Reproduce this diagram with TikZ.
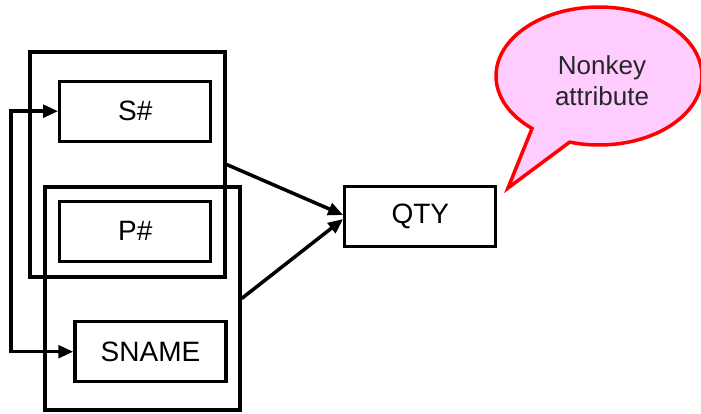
\documentclass[tikz,border=0pt]{standalone}
\usepackage{fontspec}
\setmainfont{Liberation Sans}
\usetikzlibrary{arrows.meta,shapes.callouts}
\definecolor{bubblepink}{RGB}{255,204,255}
\begin{document}
\begin{tikzpicture}[x=1pt, y=-1pt,
  attr/.style={draw, line width=3.3pt, minimum width=151pt, minimum height=60pt,
    inner sep=0pt, font=\fontsize{28}{30}\selectfont},
  group/.style={draw, line width=3.3pt, minimum width=195pt, inner sep=0pt},
  link/.style={line width=3.5pt, >={Triangle[length=15pt,width=12.5pt]}}]
\useasboundingbox (0,0) rectangle (701,413);
\node[group, minimum height=225pt] (grpA) at (127.5,164.5) {};
\node[group, minimum height=223pt] (grpB) at (142.5,298.5) {};
\node[attr] (sid) at (135.3,111.2) {S\#};
\node[attr] (pid) at (135.3,231.3) {P\#};
\node[attr] (sname) at (150.5,351.7) {SNAME};
\node[attr] (qty) at (420.3,216.3) {QTY};
\draw[link, ->] (grpA.east) -- ([yshift=1.3pt]qty.west);
\draw[link, ->] (grpB.east) -- ([yshift=-2.7pt]qty.west);
\draw[link, <->] (sid.west) -- ++(-47,0) |- (sname.west);
% callout
\node[ellipse callout, draw=red, fill=bubblepink, line width=3.5pt,
  minimum width=206pt, minimum height=138pt, inner sep=0pt,
  callout absolute pointer={(508,188)}, callout pointer arc=24]
  (note) at (599,76) {};
\node[align=center, text=black!85, font=\fontsize{26}{31}\selectfont]
  (notetext) at ([xshift=3pt,yshift=-5pt]note.center) {Nonkey\\attribute};
\end{tikzpicture}
\end{document}
